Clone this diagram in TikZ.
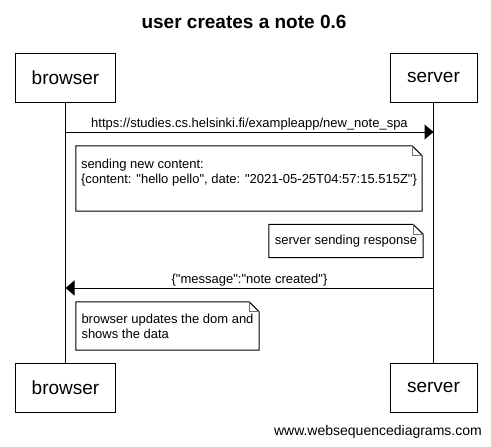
\documentclass[tikz,border=0pt]{standalone}
\usepackage{fontspec}
\setmainfont{Liberation Sans}[Ligatures=TeXOff]
\usetikzlibrary{arrows.meta}

\begin{document}
\begin{tikzpicture}[x=1pt, y=-1pt,
  actor/.style={rectangle, draw, line width=1pt, minimum width=87pt, minimum height=49pt, inner sep=0pt, font=\fontsize{19}{22}\selectfont},
  note/.style={rectangle, inner sep=0pt, align=left, font=\fontsize{13}{15}\selectfont},
  noteline/.style={line width=1pt},
  fold/.style={line width=0.8pt, black!55},
  lifeline/.style={line width=1pt},
  msg/.style={-{Triangle[length=9pt, width=15pt]}, line width=1pt},
  msglabel/.style={inner sep=0pt, font=\fontsize{13}{15}\selectfont}
]
\useasboundingbox (0,0) rectangle (491,447);

\node[font=\bfseries\fontsize{19}{22}\selectfont] (title) at (244,22) {user creates a note 0.6};

% participants
\node[actor, minimum width=100pt] (browser) at (65.5,77.5) {browser};
\node[actor] (server) at (433.5,77.5) {server};
\node[actor, minimum width=100pt] (browserEnd) at (65.5,387.5) {browser};
\node[actor] (serverEnd) at (433.5,387.5) {server};

\draw[lifeline] (browser) -- (browserEnd);
\draw[lifeline] (server) -- (serverEnd);

% messages
\coordinate (req) at (0,132);
\coordinate (resp) at (0,288);
\draw[msg] (browser |- req) -- node[msglabel, midway, above=1.5pt] {https://studies.cs.helsinki.fi/exampleapp/new\_note\_spa} (server |- req);
\draw[msg] (server |- resp) -- node[msglabel, midway, above=1.5pt] {\{"message":"note created"\}} (browser |- resp);

% notes
\node[note, minimum width=346pt, minimum height=65pt] (content) at (249,178.5)
  {sending new content:\\\{content: "hello pello", date: "2021-05-25T04:57:15.515Z"\}\\\mbox{}};
\node[note, minimum width=154pt, minimum height=33pt] (response) at (346,241) {server sending response};
\node[note, minimum width=183pt, minimum height=48pt] (update) at (167.5,326)
  {browser updates the dom and\\shows the data};

\foreach \n in {content, response, update} {
  \draw[noteline] (\n.north west) -- ([xshift=-10pt]\n.north east) -- ([yshift=-10pt]\n.north east)
    -- (\n.south east) -- (\n.south west) -- cycle;
  \draw[fold] ([xshift=-10pt]\n.north east) |- ([yshift=-10pt]\n.north east);
}

\node[anchor=east, inner sep=0pt, font=\fontsize{14}{16}\selectfont] (credit) at (482,432) {www.websequencediagrams.com};

\end{tikzpicture}
\end{document}
